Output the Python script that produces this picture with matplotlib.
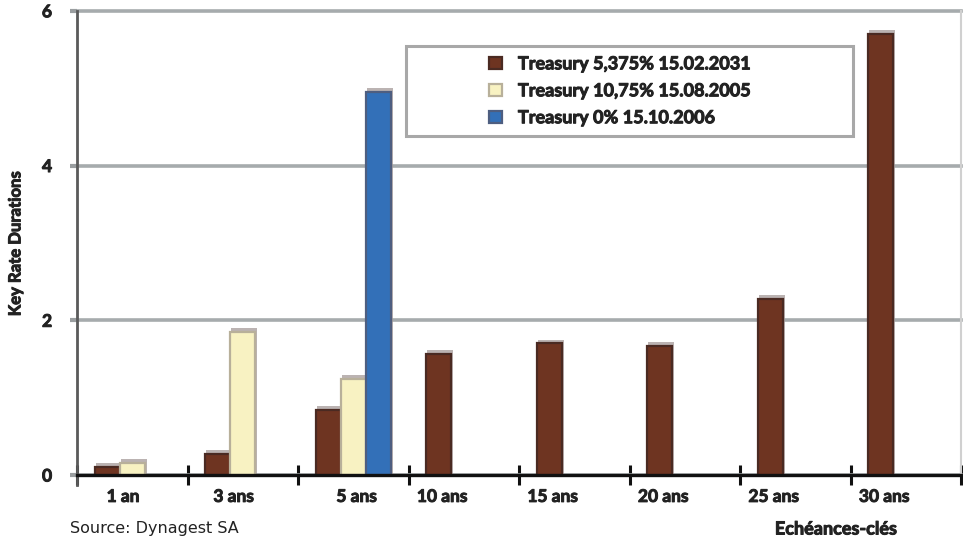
import numpy as np
import matplotlib
matplotlib.use("Agg")
import matplotlib.pyplot as plt
import matplotlib.patheffects as pe
from matplotlib.patches import Rectangle

# Key rate durations by maturity bucket for three Treasury issues
maturities = ["1 an", "3 ans", "5 ans", "10 ans", "15 ans", "20 ans", "25 ans", "30 ans"]
series_names = ["Treasury 5,375% 15.02.2031",
                "Treasury 10,75% 15.08.2005",
                "Treasury 0% 15.10.2006"]
t2031 = [0.11, 0.27, 0.84, 1.57, 1.70, 1.67, 2.28, 5.70]
t2005 = [0.16, 1.85, 1.24, np.nan, np.nan, np.nan, np.nan, np.nan]
t2006 = [np.nan, np.nan, 4.95, np.nan, np.nan, np.nan, np.nan, np.nan]
y_ticks = [0, 2, 4, 6]

fill_colors = ["#6E3421", "#F8F2C2", "#3370B8"]
edge_colors = ["#4A2A22", "#B8B09A", "#4E5E80"]

plt.rcParams["font.family"] = ["Lato", "DejaVu Sans"]
TXT = "#222222"
W = "bold"
heavy = [pe.withStroke(linewidth=0.7, foreground=TXT)]

fig = plt.figure(figsize=(9.63, 5.39), dpi=100)
ax = fig.add_axes([0.080, 0.1187, 0.918, 0.8613])

n = len(maturities)
x = np.arange(n)
width = 0.226
values = [np.array(t2031), np.array(t2005), np.array(t2006)]
offsets = [-width, 0.0, width]

handles = []
for vals, off, fc, ec, name in zip(values, offsets, fill_colors, edge_colors, series_names):
    mask = ~np.isnan(vals)
    # soft grey shadow giving the bars a slight relief
    ax.bar(x[mask] + off + 0.012, vals[mask] + 0.05, width=width + 0.01,
           color="#A49A98", alpha=0.75, zorder=2, linewidth=0)
    bars = ax.bar(x[mask] + off, vals[mask], width=width, color=fc,
                  edgecolor=ec, linewidth=1.6, zorder=3, label=name)
    handles.append(bars)

# category labels sit under the bars that exist in each bucket
label_pos = []
for i in range(n):
    occupied = [i + off for vals, off in zip(values, offsets) if not np.isnan(vals[i])]
    label_pos.append(np.mean(occupied) + 0.03)

ax.set_xlim(-0.5, n - 0.5)
ax.set_ylim(0, 6)
ax.set_xticks(label_pos)
ax.set_xticklabels(maturities, fontsize=12.5, fontweight=W, color=TXT)
ax.set_xticks(np.arange(n + 1) - 0.5, minor=True)
ax.tick_params(axis="x", which="major", length=0, pad=10)
ax.tick_params(axis="x", which="minor", length=14, width=2.2, direction="inout",
               color="#111111")

ax.set_yticks(y_ticks)
ax.set_yticklabels([str(v) for v in y_ticks], fontsize=12.5, fontweight=W, color=TXT)
ax.tick_params(axis="y", length=5, width=3, color="#9A9EA0", pad=13)
for lab in ax.get_xticklabels() + ax.get_yticklabels():
    lab.set_path_effects(heavy)

ax.yaxis.grid(True, color="#A6ABAD", linewidth=2.6, zorder=1)
for gl in ax.get_ygridlines():
    gl.set_clip_on(False)
ax.set_axisbelow(True)

for side in ["top", "bottom"]:
    ax.spines[side].set_visible(False)
ax.spines["left"].set_color("#5A5A5A")
ax.spines["left"].set_linewidth(2.0)
ax.spines["left"].set_bounds(-0.13, 6)
ax.spines["right"].set_color("#D0D0D0")
ax.spines["right"].set_linewidth(1.5)

ax.axhline(0, color="#111111", linewidth=2.4, zorder=4, clip_on=False)

# legend in a grey framed box
frame = Rectangle((0.3725, 0.7306), 0.5055, 0.194, transform=ax.transAxes,
                  facecolor="white", edgecolor="#A8A8A8", linewidth=2.2, zorder=5)
ax.add_patch(frame)
leg = ax.legend(handles=handles, loc="center", bbox_to_anchor=(0.614, 0.8276),
                frameon=False, prop={"weight": W, "size": 13},
                handlelength=0.7, handleheight=0.7, handletextpad=0.9,
                labelspacing=0.55)
leg.set_zorder(6)
for t in leg.get_texts():
    t.set_color(TXT)
    t.set_path_effects(heavy)

fig.text(0.016, 0.547, "Key Rate Durations", rotation=90, ha="center", va="center",
         fontsize=12, fontweight=W, color=TXT, path_effects=heavy)
fig.text(0.868, 1 - 529 / 539, "Echéances-clés", ha="center", va="center",
         fontsize=13, fontweight=W, color=TXT, path_effects=heavy)
fig.text(70 / 963, 1 - 529 / 539, "Source: Dynagest SA", ha="left", va="center",
         fontsize=11.5, color=TXT, family=["DejaVu Sans"])

fig.savefig("out.png", dpi=100, facecolor="white")
